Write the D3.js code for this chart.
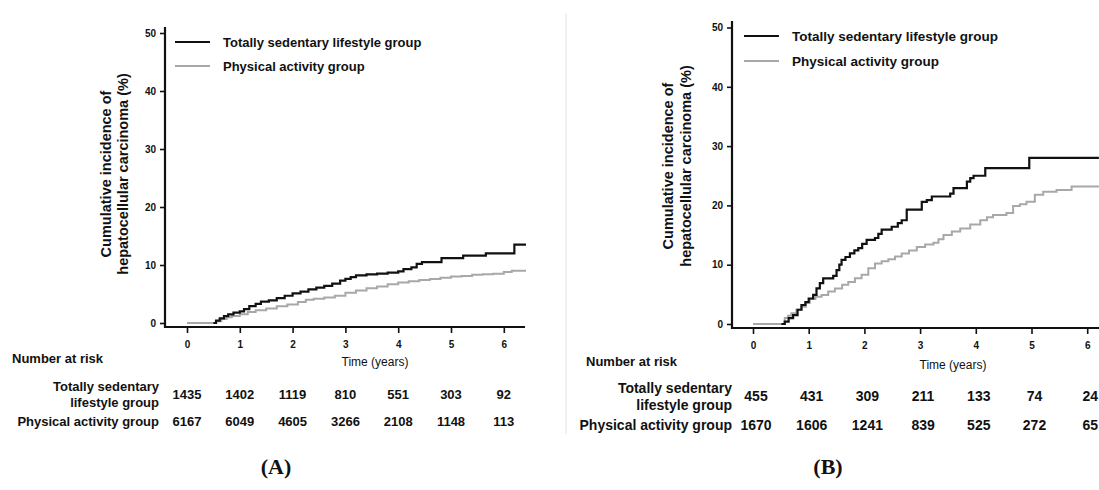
<!DOCTYPE html>
<html>
<head>
<meta charset="utf-8">
<script src="https://cdn.jsdelivr.net/npm/d3@7"></script>
<style>
  html, body { margin: 0; padding: 0; background: #fff; }
  svg { display: block; }
  text { fill: #111; }
</style>
</head>
<body>
<svg id="chart" width="1099" height="490"></svg>
<script>
// ---------------- DATA ----------------
const timeTicks = [0, 1, 2, 3, 4, 5, 6];
const yTicks = [0, 10, 20, 30, 40, 50];
const groupNames = ["Totally sedentary lifestyle group", "Physical activity group"];
const panelLabels = ["(A)", "(B)"];

// Panel A: cumulative incidence (%) by time (years)
const A_sedentary = [
  [0, 0], [0.47, 0], [0.55, 0.4], [0.62, 0.8], [0.7, 1.2], [0.78, 1.5], [0.88, 1.8],
  [1.0, 2.0], [1.08, 2.4], [1.18, 2.9], [1.3, 3.3], [1.4, 3.7], [1.55, 3.9], [1.7, 4.3],
  [1.85, 4.7], [2.0, 5.1], [2.15, 5.4], [2.3, 5.8], [2.45, 6.1], [2.6, 6.4], [2.75, 6.8],
  [2.9, 7.3], [3.0, 7.6], [3.1, 7.9], [3.2, 8.2], [3.4, 8.4], [3.6, 8.5], [3.8, 8.7],
  [4.0, 8.9], [4.1, 9.3], [4.25, 9.6], [4.35, 10.2], [4.45, 10.5], [4.82, 11.2],
  [5.23, 11.6], [5.66, 12.0], [6.2, 13.5], [6.42, 13.5]
];
const A_active = [
  [0, 0], [0.5, 0], [0.55, 0.3], [0.65, 0.7], [0.75, 1.0], [0.85, 1.2], [1.0, 1.5],
  [1.15, 1.9], [1.3, 2.2], [1.5, 2.5], [1.7, 2.9], [1.9, 3.2], [2.1, 3.6], [2.25, 4.0],
  [2.4, 4.2], [2.6, 4.4], [2.8, 4.7], [3.0, 5.2], [3.2, 5.6], [3.4, 6.0], [3.6, 6.3],
  [3.8, 6.7], [4.0, 7.0], [4.2, 7.2], [4.4, 7.4], [4.6, 7.6], [4.8, 7.8], [5.0, 8.0],
  [5.2, 8.1], [5.4, 8.3], [5.6, 8.4], [5.8, 8.5], [6.0, 8.8], [6.15, 9.0], [6.42, 9.0]
];
// Panel B
const B_sedentary = [
  [0, 0], [0.52, 0], [0.57, 0.4], [0.64, 1.0], [0.72, 1.5], [0.8, 2.4], [0.87, 3.2],
  [0.94, 3.7], [1.0, 4.3], [1.08, 4.9], [1.14, 6.0], [1.2, 6.9], [1.26, 7.7], [1.44, 8.1],
  [1.5, 9.1], [1.55, 10.0], [1.59, 10.8], [1.66, 11.3], [1.74, 11.9], [1.82, 12.4],
  [1.89, 12.8], [1.96, 13.5], [2.04, 14.2], [2.19, 14.5], [2.25, 15.2], [2.31, 15.9],
  [2.49, 16.4], [2.6, 17.0], [2.67, 17.5], [2.76, 19.3], [2.97, 19.3], [3.03, 20.6],
  [3.12, 20.9], [3.21, 21.5], [3.45, 21.5], [3.54, 22.0], [3.6, 22.9], [3.78, 22.9],
  [3.84, 24.0], [3.9, 24.6], [3.96, 25.0], [4.15, 25.0], [4.17, 26.3], [4.91, 26.3],
  [4.96, 28.0], [6.21, 28.0]
];
const B_active = [
  [0, 0], [0.51, 0], [0.57, 1.0], [0.63, 1.4], [0.69, 1.8], [0.78, 2.4], [0.87, 2.9],
  [0.95, 3.6], [1.02, 4.2], [1.12, 4.6], [1.23, 4.9], [1.35, 5.5], [1.47, 6.0],
  [1.6, 6.6], [1.71, 7.1], [1.83, 7.7], [1.95, 8.3], [2.07, 9.4], [2.19, 10.2],
  [2.31, 10.6], [2.43, 10.9], [2.55, 11.4], [2.67, 11.9], [2.8, 12.4], [2.94, 13.0],
  [3.09, 13.4], [3.24, 13.7], [3.33, 14.3], [3.42, 15.0], [3.57, 15.6], [3.72, 16.1],
  [3.9, 16.8], [4.08, 17.5], [4.2, 18.0], [4.31, 18.4], [4.55, 18.7], [4.67, 19.9],
  [4.79, 20.2], [4.91, 20.6], [5.06, 21.8], [5.21, 22.3], [5.45, 22.6], [5.69, 22.6],
  [5.72, 23.2], [6.21, 23.2]
];

// Number at risk
const A_riskSedentary = [1435, 1402, 1119, 810, 551, 303, 92];
const A_riskActive = [6167, 6049, 4605, 3266, 2108, 1148, 113];
const B_riskSedentary = [455, 431, 309, 211, 133, 74, 24];
const B_riskActive = [1670, 1606, 1241, 839, 525, 272, 65];

// ---------------- DRAWING ----------------
const SANS = "'Liberation Sans', Arial, sans-serif";
const SERIF = "'Liberation Serif', 'Times New Roman', serif";
const svg = d3.select("#chart");

// faint divider between panels
svg.append("line")
  .attr("x1", 566).attr("x2", 566).attr("y1", 13).attr("y2", 434)
  .attr("stroke", "#ececec").attr("stroke-width", 1.5);

function drawPanel(p) {
  const g = svg.append("g").style("font-family", SANS);
  const x = d3.scaleLinear().domain([0, 6]).range([p.x0, p.x0 + p.xStep * 6]);
  const y = d3.scaleLinear().domain([0, 50]).range([p.y0, p.y0 - p.yUnit * 50]);

  // y axis
  const ya = g.append("g").attr("transform", `translate(${p.axisX},0)`)
    .call(d3.axisLeft(y).tickValues(yTicks).tickFormat(d3.format("d")).tickSize(5).tickPadding(4));
  ya.select(".domain").remove();
  ya.selectAll(".tick line").attr("stroke", "#111").attr("stroke-width", 1.6);
  ya.selectAll(".tick text").attr("font-size", 10).attr("font-weight", "bold")
    .style("font-family", SANS).attr("fill", "#111");

  // x axis
  const xa = g.append("g").attr("transform", `translate(0,${p.axisY})`)
    .call(d3.axisBottom(x).tickValues(timeTicks).tickFormat(d3.format("d")).tickSize(6).tickPadding(8));
  xa.select(".domain").remove();
  xa.selectAll(".tick line").attr("stroke", "#111").attr("stroke-width", 1.6);
  xa.selectAll(".tick text").attr("font-size", 10).attr("font-weight", "bold")
    .style("font-family", SANS).attr("fill", "#111");

  // axis lines
  g.append("line").attr("x1", p.axisX).attr("x2", p.axisX)
    .attr("y1", p.axisTop).attr("y2", p.axisY + 1)
    .attr("stroke", "#111").attr("stroke-width", 2.2);
  g.append("line").attr("x1", p.axisX - 1).attr("x2", p.axisRight)
    .attr("y1", p.axisY).attr("y2", p.axisY)
    .attr("stroke", "#111").attr("stroke-width", 2.2);

  // curves
  const line = d3.line().x(d => x(d[0])).y(d => y(d[1])).curve(d3.curveStepAfter);
  g.append("path").datum(p.active).attr("d", line)
    .attr("fill", "none").attr("stroke", "#a8a8a8").attr("stroke-width", 2);
  g.append("path").datum(p.sedentary).attr("d", line)
    .attr("fill", "none").attr("stroke", "#111").attr("stroke-width", 2.2);
  g.append("path").datum(p.active.filter(d => d[1] === 0)).attr("d", line)
    .attr("fill", "none").attr("stroke", "#a8a8a8").attr("stroke-width", 2);

  // legend
  const leg = g.append("g");
  [0, 1].forEach(i => {
    const ly = p.legY[i];
    leg.append("line").attr("x1", p.legX).attr("x2", p.legX + 35)
      .attr("y1", ly).attr("y2", ly)
      .attr("stroke", i === 0 ? "#111" : "#a8a8a8").attr("stroke-width", 2);
    leg.append("text").attr("x", p.legX + 48).attr("y", ly)
      .attr("dominant-baseline", "central")
      .attr("font-size", p.legFont).attr("font-weight", "bold")
      .text(groupNames[i]);
  });

  // y label
  const yl = g.append("g");
  ["Cumulative incidence of", "hepatocellular carcinoma (%)"].forEach((t, i) => {
    yl.append("text")
      .attr("transform", `translate(${p.ylabX[i]},${p.ylabCY}) rotate(-90)`)
      .attr("text-anchor", "middle").attr("dominant-baseline", "central")
      .attr("font-size", 14.5).attr("font-weight", "bold")
      .text(t);
  });

  // x label
  g.append("text").attr("x", p.timeX).attr("y", p.timeY)
    .attr("text-anchor", "middle").attr("dominant-baseline", "central")
    .attr("font-size", 12)
    .text("Time (years)");

  // number at risk
  g.append("text").attr("x", p.narX).attr("y", p.narY)
    .attr("dominant-baseline", "central")
    .attr("font-size", 13).attr("font-weight", "bold")
    .text("Number at risk");

  const rl = g.append("g").attr("text-anchor", "end").attr("font-size", p.rowFont).attr("font-weight", "bold");
  rl.append("text").attr("x", p.rowLabelX).attr("y", p.row1aY).attr("dominant-baseline", "central").text("Totally sedentary");
  rl.append("text").attr("x", p.rowLabelX).attr("y", p.row1bY).attr("dominant-baseline", "central").text("lifestyle group");
  rl.append("text").attr("x", p.rowLabelX).attr("y", p.row2Y).attr("dominant-baseline", "central").text("Physical activity group");

  const nums = g.append("g").attr("text-anchor", "middle").attr("font-size", p.rowFont).attr("font-weight", "bold");
  nums.selectAll("text.r1").data(p.risk1).join("text")
    .attr("x", (d, i) => x(timeTicks[i]) + p.numDX).attr("y", p.row1Y)
    .attr("dominant-baseline", "central").text(d => d);
  nums.selectAll("text.r2").data(p.risk2).join("text")
    .attr("x", (d, i) => x(timeTicks[i]) + p.numDX).attr("y", p.row2Y)
    .attr("dominant-baseline", "central").text(d => d);

  // panel label
  g.append("text").attr("x", p.labX).attr("y", p.labY)
    .attr("text-anchor", "middle").attr("dominant-baseline", "central")
    .style("font-family", SERIF)
    .attr("font-size", 22).attr("font-weight", "bold")
    .text(p.label);
}

drawPanel({
  x0: 187, xStep: 52.8, y0: 323, yUnit: 5.8,
  axisX: 165, axisY: 327, axisTop: 27, axisRight: 525,
  sedentary: A_sedentary, active: A_active,
  legX: 175, legY: [42, 66], legFont: 13,
  ylabX: [106, 123], ylabCY: 174,
  timeX: 375, timeY: 362,
  narX: 12, narY: 358,
  rowLabelX: 159, row1aY: 386, row1bY: 402, row1Y: 394, row2Y: 421, rowFont: 13,
  risk1: A_riskSedentary, risk2: A_riskActive, numDX: 0,
  labX: 276, labY: 466, label: panelLabels[0]
});

drawPanel({
  x0: 753, xStep: 55.7, y0: 324, yUnit: 5.93,
  axisX: 732, axisY: 328, axisTop: 21, axisRight: 1099,
  sedentary: B_sedentary, active: B_active,
  legX: 744, legY: [36, 61], legFont: 13.5,
  ylabX: [668, 686], ylabCY: 166,
  timeX: 953, timeY: 365,
  narX: 586, narY: 361,
  rowLabelX: 732, row1aY: 388, row1bY: 405, row1Y: 396, row2Y: 425, rowFont: 14,
  risk1: B_riskSedentary, risk2: B_riskActive, numDX: 3,
  labX: 828, labY: 466, label: panelLabels[1]
});
</script>
</body>
</html>
